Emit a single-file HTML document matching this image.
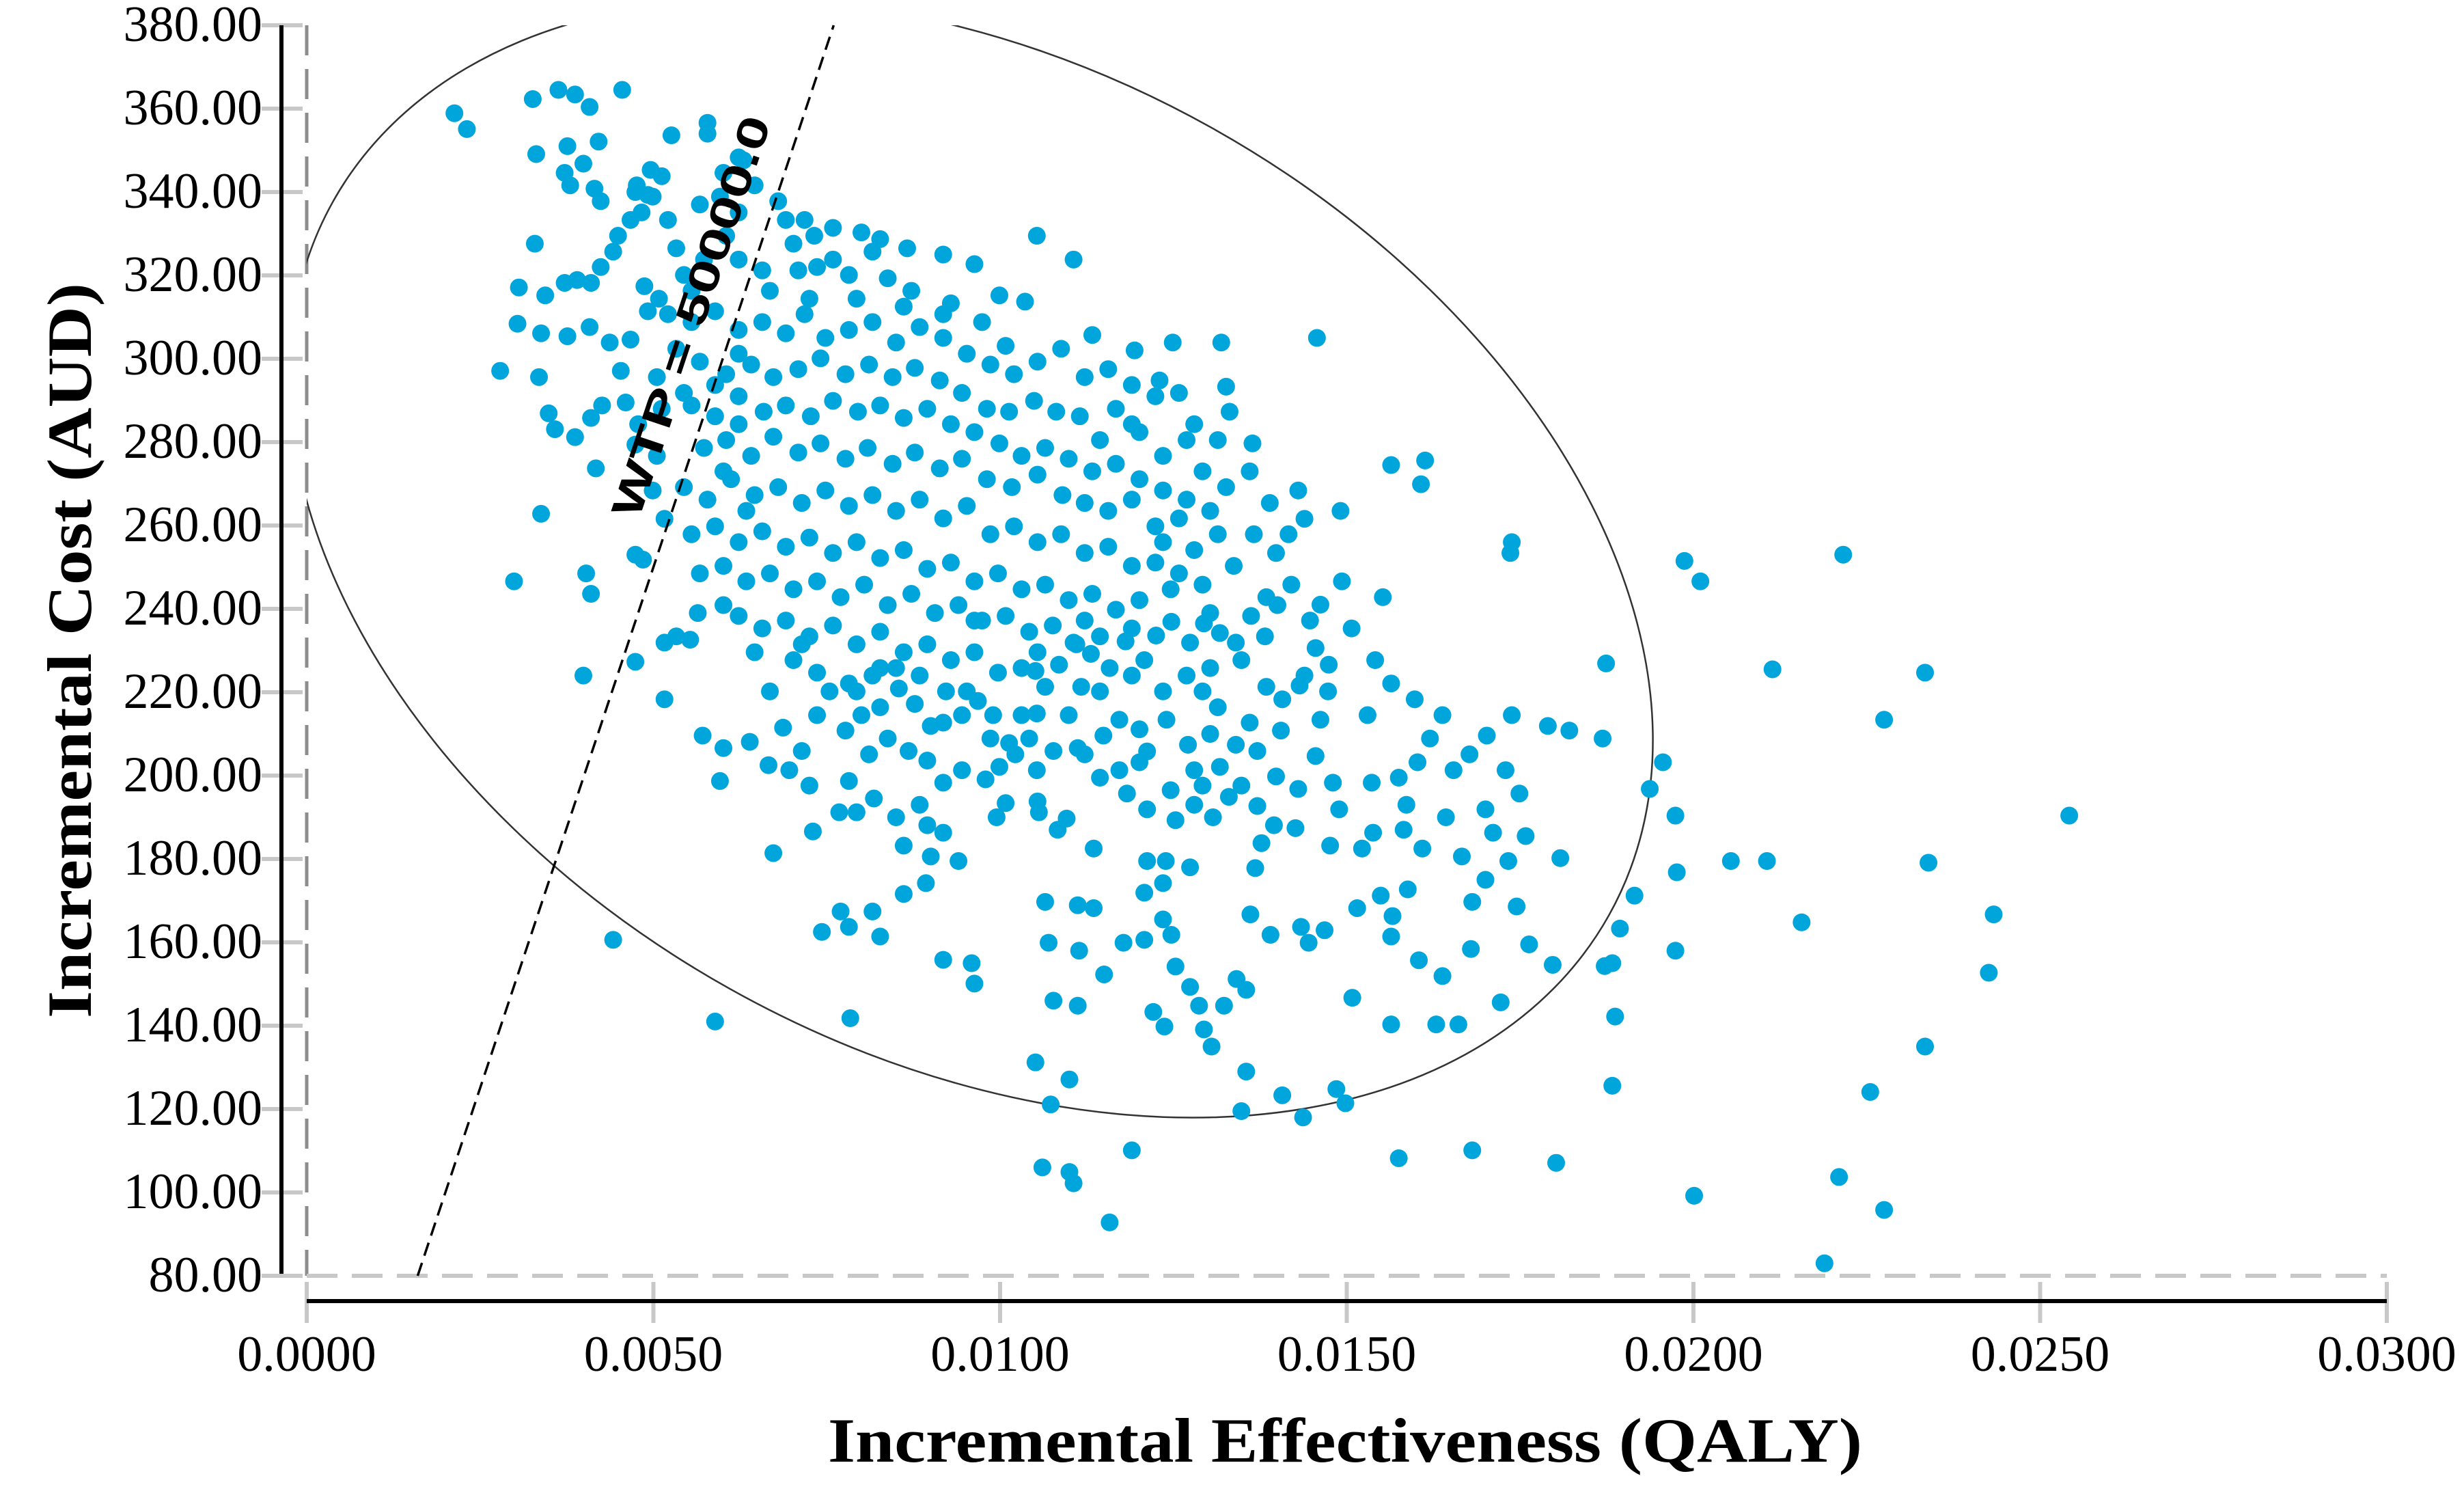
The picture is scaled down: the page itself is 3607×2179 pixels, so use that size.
<!DOCTYPE html>
<html><head><meta charset="utf-8"><style>
html,body{margin:0;padding:0;background:#fff;}
svg{display:block;}
</style></head><body>
<svg id="chart" width="3607" height="2179" viewBox="0 0 3607 2179" xmlns="http://www.w3.org/2000/svg">
<defs><clipPath id="plotclip"><rect x="449" y="37" width="3045" height="1830"/></clipPath></defs>
<g id="axes"></g>
<g id="ellipse-layer" clip-path="url(#plotclip)"></g>
<g id="points"></g>
<g id="wtp"></g>
<text x="1969" y="2139" text-anchor="middle" font-family="Liberation Serif, serif" font-weight="bold" font-size="92" textLength="1514" lengthAdjust="spacingAndGlyphs">Incremental Effectiveness (QALY)</text>
<text transform="translate(133,952) rotate(-90)" text-anchor="middle" font-family="Liberation Serif, serif" font-weight="bold" font-size="92" textLength="1076" lengthAdjust="spacingAndGlyphs">Incremental Cost (AUD)</text>
</svg>
<script>
// effectiveness in units of 0.0001 QALY; cost in AUD
const xTicks = [0, 50, 100, 150, 200, 250, 300];
const xTickLabels = ["0.0000","0.0050","0.0100","0.0150","0.0200","0.0250","0.0300"];
const yTicks = [80,100,120,140,160,180,200,220,240,260,280,300,320,340,360,380];
const yTickLabels = ["80.00","100.00","120.00","140.00","160.00","180.00","200.00","220.00","240.00","260.00","280.00","300.00","320.00","340.00","360.00","380.00"];
const wtpValue = 50000;
const wtpLabel = "WTP = 50000.0";
const ellipseCenterEff = 95.8;
const ellipseCenterCost = 252.1;
const effE4 = [21.3,23.1,32.6,36.3,38.7,40.8,45.5,33.1,37.6,42.1,37.2,39.9,38.0,41.5,42.4,47.6,49.6,49.2,47.4,51.2,52.6,57.8,57.8,63.0,32.9,30.6,34.4,37.2,39.0,41.0,42.4,44.2,44.9,46.7,48.3,49.9,52.1,53.3,30.4,33.8,37.6,40.8,43.7,46.7,49.2,50.8,48.7,27.9,33.5,34.9,35.8,38.7,41.0,42.6,41.7,45.3,46.0,47.8,47.4,50.5,51.2,54.4,33.8,29.9,40.3,41.0,39.9,44.2,58.9,47.4,48.5,49.9,51.6,47.4,51.6,53.3,55.3,51.6,56.4,57.1,59.6,60.1,63.9,68.7,66.6,67.3,78.2,76.8,73.0,74.3,77.0,81.6,82.7,78.4,86.1,89.3,90.0,94.0,91.8,95.9,96.3,105.1,105.3,111.7,105.3,110.6,113.3,119.4,123.0,124.9,131.9,132.6,133.1,136.4,145.7,143.0,149.1,143.9,156.4,160.7,161.3,173.8,173.6,173.8,170.2,163.8,172.9,174.9,179.0,182.1,186.9,187.4,195.6,193.7,197.4,197.6,191.5,189.4,188.3,197.4,188.7,188.3,187.2,179.7,176.3,180.8,175.8,173.3,174.5,168.1,167.9,163.8,160.4,166.1,162.9,156.4,172.2,168.1,157.5,180.2,200.1,198.7,201.0,221.6,211.4,233.4,227.5,254.2,233.9,205.4,210.6,215.6,243.3,242.6,233.4,225.5,221.0,227.5,218.9,
140.7,143.7,148.5,149.8,134.8,135.5,130.5,129.4,150.8,151.5,146.8,144.5,143.4,139.0,136.1,136.8,137.7,134.1,135.5,132.3,128.7,127.4,125.3,124.7,123.5,120.8,123.5,121.2,123.9,127.4,117.8,115.0,120.8,122.1,123.7,119.0,115.8,110.6,110.0,106.1,110.0,107.3,105.1,107.7,111.2,107.0,111.4,106.5,111.2,113.5,113.5,109.6,108.3,105.6,100.8,99.5,97.9,99.9,102.2,105.3,107.7,111.2,114.9,117.2,120.1,124.0,127.1,130.3,134.0,137.1,139.8,143.0,145.5,148.0,148.9,153.6,157.5,160.2,158.6,158.2,153.8,152.2,154.9,156.6,158.8,156.4,147.6,142.6,139.5,137.1,133.0,130.7,128.0,125.3,121.2,118.3,114.4,117.2,120.1,128.0,131.7,134.8,138.4,140.7,143.2,145.5,147.4,149.3,146.2,144.7,142.0,140.0,138.4,136.2,134.0,131.7,129.4,127.4,124.7,122.5,120.8,118.1,115.8,113.1,110.6,108.5,106.5,103.1,101.3,99.0,96.8,94.5,92.2,90.0,87.7,85.4,82.7,80.0,77.7,75.4,73.6,71.4,69.6,72.5,78.2,81.1,83.8,86.8,89.5,91.8,94.5,88.4,85.0,81.8,79.3,89.5,86.1,91.8,
69.1,73.2,75.9,80.0,82.7,86.6,91.8,96.3,99.9,103.6,62.3,65.7,70.9,73.6,78.2,83.8,87.2,92.9,97.4,100.8,
55.5,58.9,62.3,65.7,69.1,71.8,74.8,78.2,81.6,85.0,88.4,91.8,95.2,98.6,102.0,105.4,108.8,112.2,115.6,119.0,122.4,125.8,56.7,60.5,64.1,67.3,70.9,74.1,77.7,81.1,84.5,87.7,91.3,94.5,98.1,101.3,104.9,108.1,111.5,
55.5,58.9,62.3,65.9,69.1,72.7,75.9,79.5,82.7,86.1,89.5,92.9,96.3,99.9,103.1,106.5,109.9,113.3,116.7,120.1,123.5,126.9,130.3,57.3,60.5,64.1,67.3,70.9,74.1,77.7,80.9,84.5,87.7,91.3,94.5,98.1,101.7,105.4,109.0,112.2,115.6,119.0,122.4,125.8,
54.4,57.8,61.2,64.6,68.0,71.4,74.8,78.2,81.6,85.0,88.4,91.8,95.2,98.6,102.0,105.4,108.8,112.2,115.6,119.0,122.4,125.8,129.2,55.5,58.9,62.3,65.7,69.1,72.5,75.9,79.3,82.7,86.1,89.5,92.9,96.3,99.7,103.1,106.5,109.9,113.3,116.7,120.1,
56.7,60.1,63.4,66.8,70.2,73.6,77.0,80.4,83.8,87.2,90.6,94.0,97.4,100.8,104.2,107.6,111.0,114.4,62.3,65.7,69.1,72.5,75.9,79.3,82.7,86.1,89.5,92.9,96.3,99.7,103.1,70.2,73.6,78.2,81.6,85.0,
56.7,59.6,62.3,64.6,68.0,71.8,60.5,57.3,54.4,55.5,52.1,53.3,50.5,60.1,62.3,
128.0,131.4,136.0,138.9,141.6,139.8,136.6,133.7,130.3,134.8,138.2,143.9,147.3,150.7,154.1,155.2,129.2,131.4,136.0,140.5,146.2,153.0,156.4,159.8,162.0,165.4,167.7,170.0,164.3,160.9,166.6,171.1,170.0,
95.2,98.6,104.2,109.9,114.4,119.0,123.5,126.9,130.3,112.2,121.2,124.6,129.2,105.4,91.8,88.4,82.7,79.3,96.3,105.4,112.2,119.0,124.6,128.0,123.5,131.4,132.6,129.2,126.9,123.5,120.1,116.7,114.4,119.0,70.2,75.9,81.6,66.8,72.5,79.3,86.1,91.8,62.3,58.9,62.3,60.1,63.4,60.1,64.6,66.8,71.4];
const costAUD = [358.9,355.1,362.3,364.5,363.4,360.4,364.5,349.1,351.0,352.1,344.6,346.8,341.6,340.8,337.8,341.6,345.3,339.3,340.0,343.8,353.6,354.0,356.6,347.6,327.6,317.1,315.2,318.2,318.9,318.2,322.0,325.7,329.5,333.3,335.1,338.9,333.3,326.5,308.4,306.1,305.4,307.6,303.9,304.6,311.4,314.4,317.4,297.1,295.6,286.9,283.1,281.2,285.8,288.8,273.7,297.1,289.5,284.3,279.4,276.7,288.0,291.8,262.8,246.6,248.5,243.6,224.0,160.6,141.0,253.0,251.8,268.4,261.6,227.3,231.9,233.4,232.6,218.3,239.0,209.6,198.7,206.6,208.1,211.5,202.5,181.4,163.7,191.2,186.6,162.5,167.4,167.4,161.4,141.8,171.6,174.2,180.6,179.5,155.8,155.0,150.1,225.1,214.9,221.3,329.5,323.8,305.7,302.0,294.8,303.9,303.9,293.3,287.3,279.7,305.0,268.4,263.5,261.6,274.5,269.9,275.6,256.0,253.4,214.5,209.6,214.5,201.3,195.7,211.9,210.8,208.9,226.9,203.2,196.8,190.4,176.8,171.2,163.3,155.0,158.0,142.2,125.6,154.3,154.6,159.5,180.2,185.5,179.5,168.6,169.7,158.4,151.9,155.7,140.3,140.3,140.3,145.6,110.1,108.2,107.1,99.2,251.5,246.6,253.0,225.5,224.7,213.4,190.4,179.1,179.5,179.5,164.8,166.7,152.7,135.0,124.1,103.7,95.8,83.0,
123.3,118.0,124.8,121.4,119.5,129.0,135.0,139.1,146.7,168.2,162.9,159.9,163.7,161.8,166.7,177.8,183.8,151.2,148.6,144.8,144.8,149.3,154.2,161.8,165.5,160.6,174.2,179.5,179.5,178.0,159.9,152.3,171.9,143.3,139.8,110.1,92.8,102.2,104.9,106.0,127.1,121.1,131.2,146.0,144.8,159.9,158.0,169.7,168.9,168.2,182.5,189.7,187.0,191.2,193.4,190.0,199.1,202.1,205.1,201.3,205.9,206.6,209.6,213.4,211.1,213.4,207.4,210.0,207.4,205.9,199.8,196.8,204.7,198.3,191.9,198.3,199.5,203.2,193.0,187.0,186.3,182.5,171.2,166.3,172.7,161.4,183.2,187.4,188.1,192.7,194.9,190.0,193.0,189.3,191.9,195.7,199.5,201.3,203.2,201.3,202.1,197.6,221.3,218.3,221.6,230.6,226.6,246.6,241.0,237.2,245.8,240.9,242.8,238.3,231.9,234.2,236.5,231.9,236.9,233.6,227.7,232.2,225.8,229.2,231.9,226.6,221.3,214.5,207.8,214.5,217.9,214.5,220.2,211.9,217.2,220.9,216.4,214.5,210.8,220.2,214.5,205.9,201.3,197.6,198.7,205.1,208.9,205.9,203.6,198.3,201.3,193.0,190.0,194.5,191.2,188.1,183.2,186.3,
333.3,329.5,331.4,330.3,328.7,326.5,325.0,322.7,315.2,313.7,323.8,321.2,321.2,322.0,320.1,319.3,316.3,313.3,308.8,303.1,
308.8,311.4,306.9,308.8,306.1,310.7,305.0,306.9,308.8,303.9,307.6,305.0,301.2,298.6,296.3,299.3,302.4,295.6,297.5,293.7,291.0,291.8,299.3,296.3,298.6,295.6,297.5,300.1,296.3,298.6,295.6,297.8,294.8,291.8,288.0,287.3,289.9,287.3,286.2,
288.8,286.2,291.0,287.3,288.8,286.2,289.9,287.3,288.8,285.8,288.0,284.3,282.4,279.7,276.7,278.6,276.0,273.0,274.8,271.1,268.4,266.2,263.5,278.6,280.5,276.7,281.3,277.5,279.7,276.0,278.6,274.8,277.5,273.7,276.0,271.1,269.2,272.2,267.3,265.4,263.5,266.2,259.8,261.7,
269.2,266.2,271.1,267.3,269.2,265.4,268.4,264.7,267.3,263.5,266.2,261.7,264.7,257.9,259.8,256.0,257.9,253.4,254.9,250.3,251.1,248.5,245.8,257.9,259.8,256.0,258.6,254.9,257.1,253.4,256.0,252.2,254.1,249.6,251.1,246.6,248.5,244.7,245.8,242.1,243.6,239.8,242.1,
248.5,250.3,246.6,248.5,244.7,246.6,242.8,245.8,240.9,243.6,239.0,240.9,237.2,238.3,234.5,236.0,231.5,233.4,238.3,235.3,237.2,233.4,236.0,231.5,234.5,229.6,231.5,227.7,229.6,224.7,225.8,227.7,224.7,222.1,224.0,225.8,
337.0,338.9,335.1,341.6,337.8,333.3,329.5,323.8,320.1,316.3,310.7,302.4,295.6,344.6,348.3,
284.3,280.5,273.0,265.4,257.9,253.4,257.9,250.3,239.0,227.7,233.4,224.0,220.2,235.3,227.7,242.8,220.2,216.4,212.7,210.8,213.4,214.5,222.1,218.3,208.9,201.3,205.1,191.9,190.0,182.5,180.6,186.3,175.0,
220.2,208.9,208.9,214.5,220.2,224.0,220.2,224.0,225.8,205.1,205.8,196.5,197.6,193.8,212.7,224.0,225.8,220.2,237.2,229.6,237.2,235.3,244.7,254.1,256.0,257.9,269.2,273.0,280.5,276.7,282.4,288.0,280.5,284.3,327.6,323.8,325.7,316.3,314.4,314.4,312.5,310.7,301.2,293.7,284.3,273.0,263.5,240.9,229.6,220.2,231.5];

const NS = "http://www.w3.org/2000/svg";
const X0 = 449, X1 = 3494, Y0 = 1867, Y1 = 37;
function xScale(e) { return X0 + (e - 0) / 300 * (X1 - X0); }
function yScale(c) { return Y0 - (c - 80) / 300 * (Y0 - Y1); }
function mk(tag, attrs, parent) {
  const el = document.createElementNS(NS, tag);
  for (const k in attrs) el.setAttribute(k, attrs[k]);
  parent.appendChild(el);
  return el;
}
const axes = document.getElementById('axes');

yTicks.forEach((v, i) => {
  const y = yScale(v);
  const t = mk('line', {x1: 383, x2: 443, y1: y, y2: y, stroke: '#c8c8c8', 'stroke-width': 6}, axes);
  
  
  const lb = mk('text', {x: 384, y: y + 23, 'text-anchor': 'end', 'font-family': 'Liberation Serif, serif', 'font-size': 74}, axes);
  lb.textContent = yTickLabels[i];
  
  
});
xTicks.forEach((v, i) => {
  const x = xScale(v);
  const t = mk('line', {x1: x, x2: x, y1: 1876, y2: 1936, stroke: '#c8c8c8', 'stroke-width': 6}, axes);
  
  
  const lb = mk('text', {x: x, y: 2006, 'text-anchor': 'middle', 'font-family': 'Liberation Serif, serif', 'font-size': 74}, axes);
  lb.textContent = xTickLabels[i];
  
  
});
const ya = mk('line', {x1: 412, x2: 412, y1: Y1, y2: Y0, stroke: '#000', 'stroke-width': 6}, axes);


const xa = mk('line', {x1: X0, x2: X1, y1: 1904, y2: 1904, stroke: '#000', 'stroke-width': 6}, axes);


const zv = mk('line', {x1: xScale(0), x2: xScale(0), y1: Y1, y2: Y0, stroke: '#8c8c8c', 'stroke-width': 5, 'stroke-dasharray': '44 20'}, axes);


const zh = mk('line', {x1: 383, x2: X1, y1: yScale(80), y2: yScale(80), stroke: '#c8c8c8', 'stroke-width': 6, 'stroke-dasharray': '45 21'}, axes);



const el = document.getElementById('ellipse-layer');
const cx = xScale(ellipseCenterEff), cy = yScale(ellipseCenterCost);
const ell = mk('ellipse', {cx: cx, cy: cy, rx: 1070, ry: 722, transform: `rotate(29.2 ${cx} ${cy})`, fill: 'none', stroke: '#333', 'stroke-width': 2.5}, el);



const pg = document.getElementById('points');
for (let i = 0; i < effE4.length; i++) {
  const c = mk('circle', {cx: xScale(effE4[i]), cy: yScale(costAUD[i]), r: 13, fill: '#00a5dc'}, pg);
  
  
}

const wg = document.getElementById('wtp');
const eA = 80 / wtpValue * 10000, eB = 380 / wtpValue * 10000;
const wl = mk('line', {x1: xScale(eA), y1: yScale(80), x2: xScale(eB), y2: yScale(380), stroke: '#000', 'stroke-width': 3.5, 'stroke-dasharray': '20 11'}, wg);


const ang = Math.atan2(yScale(380) - yScale(80), xScale(eB) - xScale(eA)) * 180 / Math.PI;
const wt = mk('text', {transform: `translate(1032,470) rotate(${ang})`, 'text-anchor': 'middle', 'font-family': 'Liberation Sans, sans-serif', 'font-weight': 'bold', 'font-size': 62, textLength: 615, lengthAdjust: 'spacingAndGlyphs'}, wg);
wt.textContent = wtpLabel;


</script>
</body></html>
